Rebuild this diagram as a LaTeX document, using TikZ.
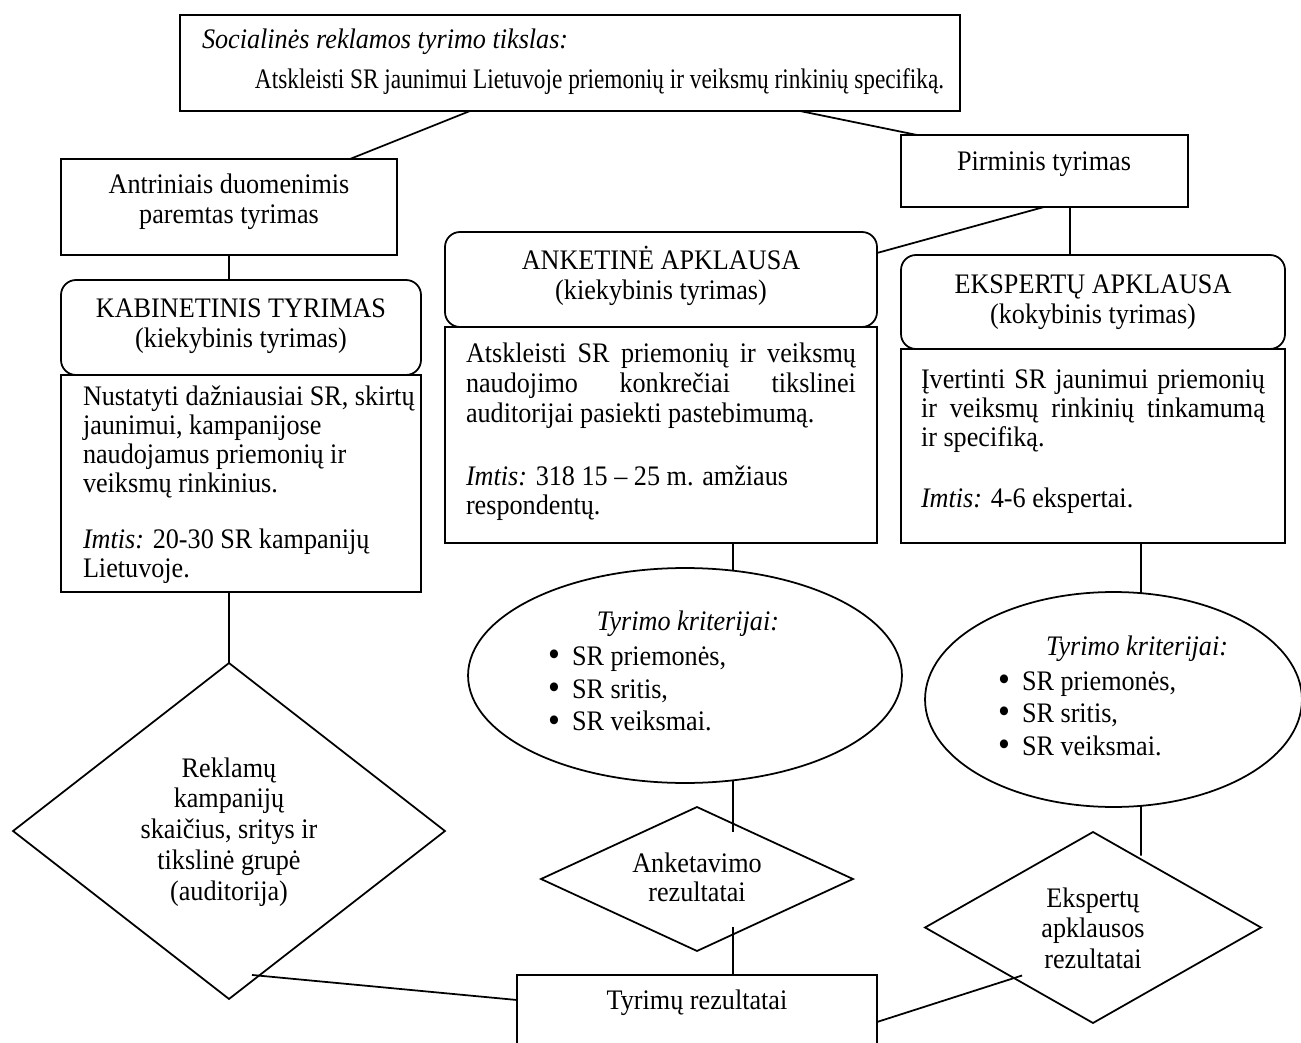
\documentclass[tikz,border=0pt]{standalone}
\usepackage{fontspec}
\usepackage{graphicx}
\setmainfont{Liberation Serif}
\usetikzlibrary{shapes.geometric,fit,calc}
\newcommand{\txtrows}[2][c]{\scalebox{1}[1.08]{\begin{tabular}[t]{@{}#1@{}}#2\end{tabular}}}
\newcommand{\tall}[1]{\scalebox{1}[1.08]{#1}}
\newcommand{\bul}{\makebox[0.48cm][l]{\raisebox{-0.6pt}[0pt][0pt]{\scalebox{1.3}{\textbullet}}}}
\begin{document}
\begin{tikzpicture}[x=0.02cm,y=-0.02cm,
  outline/.style={draw, line width=1pt, inner sep=0pt, outer sep=0pt},
  sbox/.style={outline, rectangle},
  rbox/.style={outline, rectangle, rounded corners=0.3cm},
  oval/.style={outline, ellipse},
  dia/.style={outline, diamond},
  lbl/.style={inner sep=0pt, outer sep=0pt, font=\fontsize{14.9}{#1}\selectfont},
  lbl/.default=15.8pt,
  link/.style={line width=1pt}]
\useasboundingbox (0,0) rectangle (1301,1043);

% boxes
\node[sbox, fit={(180,15) (960,111)}] (goal) {};
\node[sbox, fit={(61,159) (397,255)}] (antr) {};
\node[rbox, fit={(61,280) (421,375)}] (kab) {};
\node[sbox, fit={(61,375) (421,592)}] (kabd) {};
\node[sbox, fit={(901,135) (1188,207)}] (pirm) {};
\node[rbox, fit={(445,232) (877,327)}] (anket) {};
\node[sbox, fit={(445,327) (877,543)}] (andesc) {};
\node[rbox, fit={(901,255) (1285,349)}] (eksp) {};
\node[sbox, fit={(901,349) (1285,543)}] (ekdesc) {};
\node[oval, minimum width=8.68cm, minimum height=4.3cm] (el1) at (685,675.5) {};
\node[oval, minimum width=7.54cm, minimum height=4.3cm] (el2) at (1113.5,699.5) {};
\node[dia, minimum width=8.64cm, minimum height=6.72cm] (dia1) at (229,831) {};
\node[dia, minimum width=6.24cm, minimum height=2.88cm] (dia2) at (697,879) {};
\node[dia, minimum width=6.72cm, minimum height=3.82cm] (dia3) at (1093,927.5) {};
\node[sbox, fit={(517,975) (877,1070)}] (res) {};

% texts
\node[lbl=21.07pt, anchor=base west] (goalt) at (202,49) {\txtrows[l]{\textit{Socialinės reklamos tyrimo tikslas:}\\\hspace*{1.06cm}\scalebox{0.89}[1]{Atskleisti SR jaunimui Lietuvoje priemonių ir veiksmų rinkinių specifiką.}}};
\node[lbl, anchor=base] (antrt) at (229,194) {\txtrows{Antriniais duomenimis\\paremtas tyrimas}};
\node[lbl, anchor=base] (kabt) at (241,318) {\txtrows{KABINETINIS TYRIMAS\\(kiekybinis tyrimas)}};
\node[lbl=15.12pt, anchor=base west] (kabd1) at (83,406) {\txtrows[l]{Nustatyti dažniausiai SR, skirtų\\jaunimui, kampanijose\\naudojamus priemonių ir\\veiksmų rinkinius.}};
\node[lbl, anchor=base west] (kabd2) at (83,548) {\txtrows[l]{\textit{Imtis:} 20-30 SR kampanijų\\Lietuvoje.}};
\node[lbl, anchor=base] (pirmt) at (1044,171) {\tall{Pirminis tyrimas}};
\node[lbl, anchor=base] (anktt) at (661,270) {\txtrows{ANKETINĖ APKLAUSA\\(kiekybinis tyrimas)}};
\node[lbl, anchor=base west] (and1) at (466,363) {\txtrows[l]{\makebox[7.8cm][s]{Atskleisti SR priemonių ir veiksmų}\\\makebox[7.8cm][s]{naudojimo konkrečiai tikslinei}\\auditorijai pasiekti pastebimumą.}};
\node[lbl, anchor=base west] (and2) at (466,485) {\txtrows[l]{\textit{Imtis:} 318 15 – 25 m. amžiaus\\respondentų.}};
\node[lbl, anchor=base] (ekspt) at (1093,294) {\txtrows{EKSPERTŲ APKLAUSA\\(kokybinis tyrimas)}};
\node[lbl=15.28pt, anchor=base west] (ekd1) at (921,389) {\txtrows[l]{\makebox[6.88cm][s]{Įvertinti SR jaunimui priemonių}\\\makebox[6.88cm][s]{ir veiksmų rinkinių tinkamumą}\\ir specifiką.}};
\node[lbl, anchor=base west] (ekd2) at (921,507) {\tall{\textit{Imtis:} 4-6 ekspertai.}};
\node[lbl, anchor=base] (el1h) at (688,630) {\tall{\textit{Tyrimo kriterijai:}}};
\node[lbl=17.39pt, anchor=base west] (el1l) at (548,665) {\txtrows[l]{\bul SR priemonės,\\\bul SR sritis,\\\bul SR veiksmai.}};
\node[lbl, anchor=base] (el2h) at (1137,655) {\tall{\textit{Tyrimo kriterijai:}}};
\node[lbl=17.13pt, anchor=base west] (el2l) at (998,690) {\txtrows[l]{\bul SR priemonės,\\\bul SR sritis,\\\bul SR veiksmai.}};
\node[lbl=16.33pt, anchor=base] (dia1t) at (229,777) {\txtrows{Reklamų\\kampanijų\\skaičius, sritys ir\\tikslinė grupė\\(auditorija)}};
\node[lbl, anchor=base] (dia2t) at (697,872) {\txtrows{Anketavimo\\rezultatai}};
\node[lbl=16.33pt, anchor=base] (dia3t) at (1093,907) {\txtrows{Ekspertų\\apklausos\\rezultatai}};
\node[lbl, anchor=base] (rest) at (697,1009) {\tall{Tyrimų rezultatai}};

% connectors
\draw[link] ($(goal.south west)+(290,0)$) -- ($(antr.north west)+(289,0)$);
\draw[link] ($(goal.south west)+(620,0)$) -- ($(pirm.north west)+(16,0)$);
\draw[link] (antr.south) -- (antr.south |- kab.north);
\draw[link] (dia1.north |- kabd.south) -- (dia1.north);
\draw[link] ($(dia1.south)+(23,-24)$) -- ($(res.north west)+(0,25)$);
\draw[link] ($(andesc.south west)+(288,0)$) -- ($(el1.center)+(48,-105)$);
\draw[link] ($(el1.center)+(48,105)$) -- ($(dia2.center)+(36,-47)$);
\draw[link] ($(dia2.center)+(36,48)$) -- ($(res.north west)+(216,0)$);
\draw[link] ($(pirm.south west)+(143,0)$) -- ($(anket.north east)+(0,21)$);
\draw[link] ($(pirm.south west)+(169,0)$) -- ($(eksp.north west)+(169,0)$);
\draw[link] ($(ekdesc.south west)+(240,0)$) -- ($(el2.center)+(27.5,-106)$);
\draw[link] ($(el2.center)+(27.5,106)$) -- ($(dia3.center)+(48,-72)$);
\draw[link] ($(res.north east)+(0,47)$) -- ($(dia3.center)+(-71,48)$);
\end{tikzpicture}
\end{document}
